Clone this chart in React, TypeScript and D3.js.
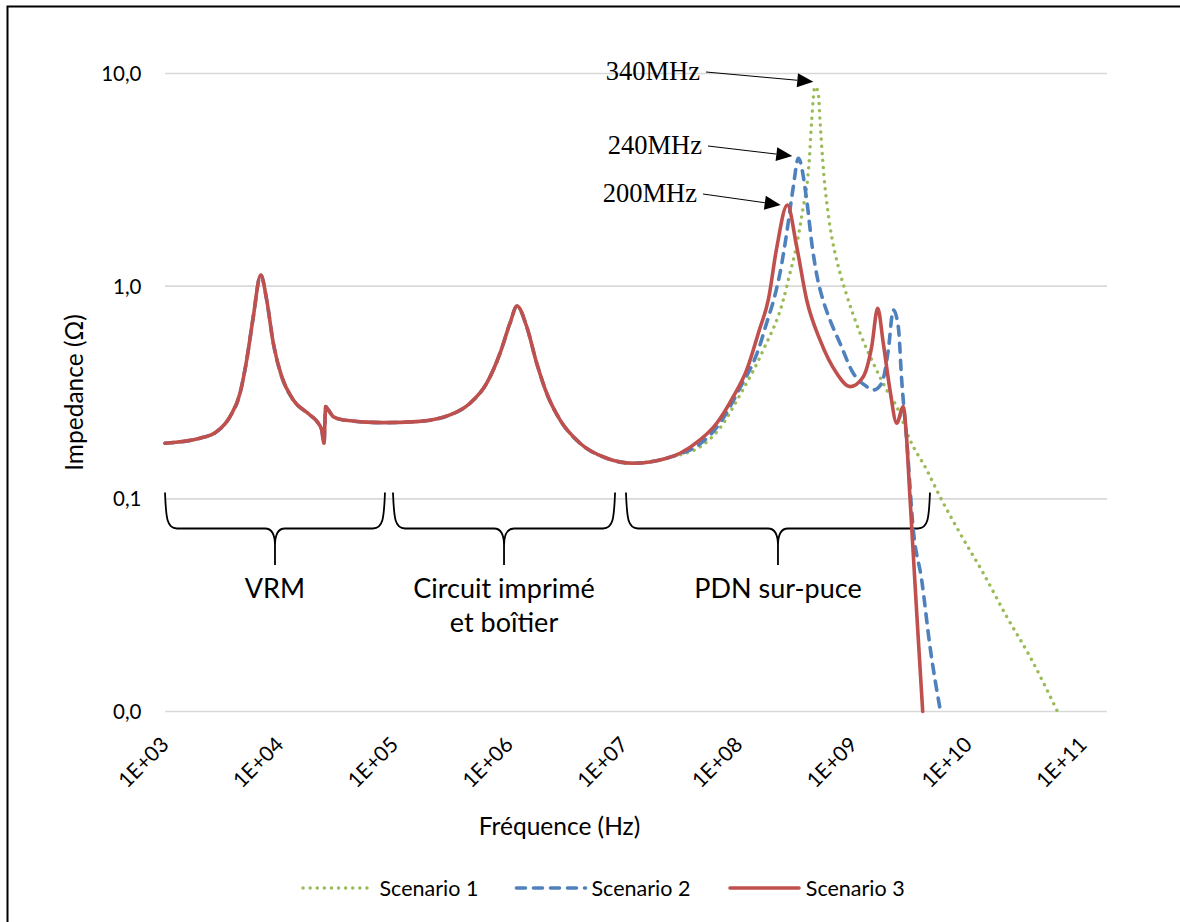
import React from "react";
import * as d3 from "d3";

// ---------- data (frequency in Hz, impedance in ohms) ----------
const seriesNames = ["Scenario 1", "Scenario 2", "Scenario 3"];
const seriesColors = ["#9bbb59", "#4f81bd", "#c0504d"];

// portion shared by all three scenarios (curves overlap)
const commonFreq = [
  1000, 2018, 2822, 3685, 4504, 5152, 5883, 6823, 7697, 8786, 10400, 13130, 18340,
  21680, 23210, 24300, 25140, 26490, 29290, 35790, 79880, 156100, 304500, 455000,
  636100, 830800, 1.015e6, 1.168e6, 1.419e6, 1.735e6, 2.12e6, 2.769e6, 4.136e6,
  7.07e6, 1.205e7, 2.355e7,
];
const commonZ = [
  0.1826, 0.1927, 0.207, 0.2435, 0.3137, 0.4498, 0.719, 1.129, 0.861, 0.539, 0.3754,
  0.2917, 0.248, 0.2267, 0.2109, 0.1826, 0.2714, 0.2618, 0.2435, 0.235, 0.2282,
  0.2307, 0.248, 0.2814, 0.3497, 0.4837, 0.6694, 0.807, 0.645, 0.434, 0.3137, 0.235,
  0.1826, 0.1552, 0.147, 0.1552,
];

const s1Freq = [
  3.076e7, 4.596e7, 6.864e7, 1.025e8, 1.636e8, 2.445e8, 2.797e8, 3.092e8, 3.419e8,
  3.651e8, 3.91e8, 4.119e8, 4.322e8, 4.617e8, 4.934e8, 5.105e8, 5.39e8, 5.644e8,
  5.911e8, 6.241e8, 6.901e8, 7.628e8, 8.6e8, 1.139e9, 1.488e9, 1.947e9, 2.379e9,
  3.107e9, 4.345e9, 5.672e9, 8.476e9, 1.353e10, 2.163e10, 3.451e10, 5.995e10,
];
const s1Z = [
  0.1609, 0.1754, 0.2154, 0.308, 0.501, 0.861, 1.153, 1.432, 1.905, 2.365, 2.936,
  3.92, 6.045, 8.667, 8.095, 6.045, 3.92, 2.936, 2.365, 1.905, 1.432, 1.153, 0.929,
  0.6026, 0.434, 0.325, 0.2714, 0.1891, 0.1368, 0.1024, 0.0689, 0.0447, 0.02794,
  0.01812, 0.01,
];

const s2Freq = [
  3.076e7, 4.596e7, 6.864e7, 1.025e8, 1.511e8, 1.728e8, 2.07e8, 2.288e8, 2.618e8,
  2.988e8, 3.304e8, 3.91e8, 4.348e8, 4.806e8, 5.423e8, 6.241e8, 7.628e8, 9.96e8,
  1.303e9, 1.488e9, 1.761e9, 2.011e9, 2.223e9, 2.457e9, 2.63e9, 2.907e9, 3.32e9,
  3.929e9, 4.642e9, 5.73e9,
];
const s2Z = [
  0.1626, 0.1812, 0.2275, 0.3322, 0.5177, 0.657, 0.909, 1.153, 1.779, 2.936, 3.993,
  2.543, 1.562, 1.117, 0.861, 0.6937, 0.539, 0.3894, 0.3371, 0.325, 0.3497, 0.501,
  0.773, 0.645, 0.3622, 0.1891, 0.0714, 0.04156, 0.02019, 0.01,
];

const s3Freq = [
  3.076e7, 4.596e7, 6.424e7, 8.966e7, 1.173e8, 1.511e8, 1.809e8, 2.141e8, 2.649e8,
  3.199e8, 3.91e8, 5.105e8, 7.138e8, 9.32e8, 1.217e9, 1.441e9, 1.625e9, 1.818e9,
  2.08e9, 2.379e9, 2.716e9, 2.867e9, 3.107e9, 3.555e9, 4.009e9,
];
const s3Z = [
  0.1638, 0.1891, 0.2267, 0.3023, 0.4036, 0.6224, 0.861, 1.512, 2.409, 1.533, 0.861,
  0.5585, 0.3894, 0.3371, 0.3754, 0.5194, 0.787, 0.539, 0.325, 0.2267, 0.2714,
  0.2109, 0.101, 0.0291, 0.01,
];

const xTickExponents = [3, 4, 5, 6, 7, 8, 9, 10, 11];
const yTickValues = [0.01, 0.1, 1, 10];

const annotLabels = ["340MHz", "240MHz", "200MHz"];
const annotTipFreq = [4.463e8, 2.929e8, 2.32e8];
const annotTipZ = [9.15, 4.094, 2.409];

const braceLabels = [["VRM"], ["Circuit imprimé", "et boîtier"], ["PDN sur-puce"]];
const braceFromFreq = [1e3, 9.7e4, 1.04e7];
const braceToFreq = [8.26e4, 8.36e6, 4.64e9];

// ---------- layout ----------
const W = 1180;
const H = 922;
const plotLeft = 165;
const plotRight = 1107;
const FONT = "Lato, 'Open Sans', sans-serif";

const x = d3.scaleLog().domain([1e3, 1e11]).range([165, 1083]);
const y = d3.scaleLog().domain([0.01, 10]).range([711.5, 73.5]);

const fmtY = (v: number) => d3.format(".1f")(v).replace(".", ",");
const fmtX = (e: number) => `1E+${String(e).padStart(2, "0")}`;

function zipPts(f: number[], z: number[]) {
  return f.map((fv, i) => ({ f: fv, z: z[i] }));
}

const seriesPts = [
  zipPts(commonFreq.concat(s1Freq), commonZ.concat(s1Z)),
  zipPts(commonFreq.concat(s2Freq), commonZ.concat(s2Z)),
  zipPts(commonFreq.concat(s3Freq), commonZ.concat(s3Z)),
];

const lineGen = d3
  .line<{ f: number; z: number }>()
  .x((d) => x(d.f))
  .y((d) => y(d.z))
  .curve(d3.curveMonotoneX);

const dashes = ["0.1,7", "9,8", undefined];
const widths = [3.4, 3.6, 3.6];

function bracePath(x0: number, x1: number, yTop: number, yMid: number, yTip: number) {
  const xc = (x0 + x1) / 2;
  return (
    `M${x0},${yTop} C${x0 + 1},${yTop + 26} ${x0 + 2},${yMid} ${x0 + 12},${yMid} ` +
    `L${xc - 10},${yMid} C${xc - 3},${yMid} ${xc},${yMid + 6} ${xc},${yMid + 17} L${xc},${yTip} ` +
    `M${xc},${yMid + 17} C${xc},${yMid + 6} ${xc + 3},${yMid} ${xc + 10},${yMid} ` +
    `L${x1 - 12},${yMid} C${x1 - 2},${yMid} ${x1 - 1},${yTop + 26} ${x1},${yTop}`
  );
}

const annotTextX = [700, 702, 697];
const annotTextY = [80, 154, 202];

export default function App() {
  return (
    <svg
      width={W}
      height={H}
      style={{ position: "fixed", left: 0, top: 0, background: "#fff" }}
      xmlns="http://www.w3.org/2000/svg"
    >
      <rect x={0} y={0} width={W} height={H} fill="#fff" />
      {/* outer border (top and left visible) */}
      <path d={`M7.5,${H + 5} L7.5,6.5 L${W + 5},6.5`} fill="none" stroke="#000" strokeWidth={2} />

      {/* gridlines */}
      {yTickValues.map((v) => (
        <line
          key={"g" + v}
          x1={plotLeft}
          x2={plotRight}
          y1={y(v)}
          y2={y(v)}
          stroke="#d9d9d9"
          strokeWidth={1.6}
        />
      ))}

      {/* y tick labels */}
      {yTickValues.map((v) => (
        <text
          key={"yt" + v}
          x={141.5}
          y={y(v)}
          dy="0.36em"
          textAnchor="end"
          fontFamily={FONT}
          fontSize={20.5}
          fill="#000"
        >
          {fmtY(v)}
        </text>
      ))}

      {/* x tick labels */}
      {xTickExponents.map((e) => {
        const px = x(Math.pow(10, e));
        return (
          <text
            key={"xt" + e}
            transform={`translate(${px + 5},${746}) rotate(-45)`}
            textAnchor="end"
            fontFamily={FONT}
            fontSize={21}
            fill="#000"
          >
            {fmtX(e)}
          </text>
        );
      })}

      {/* axis titles */}
      <text
        x={559.5}
        y={835}
        textAnchor="middle"
        fontFamily={FONT}
        fontSize={24.5}
        fill="#000"
      >
        Fréquence (Hz)
      </text>
      <text
        transform={`translate(83,${392.5}) rotate(-90)`}
        textAnchor="middle"
        fontFamily={FONT}
        fontSize={24.5}
        fill="#000"
      >
        Impedance (Ω)
      </text>

      {/* braces */}
      {braceLabels.map((lines, i) => {
        const x0 = x(braceFromFreq[i]);
        const x1 = x(braceToFreq[i]);
        const xc = (x0 + x1) / 2;
        return (
          <g key={"br" + i}>
            <path d={bracePath(x0, x1, 492.5, 528.5, 565)} fill="none" stroke="#000" strokeWidth={1.8} />
            {lines.map((t, j) => (
              <text
                key={j}
                x={xc}
                y={598 + j * 34}
                textAnchor="middle"
                fontFamily={FONT}
                fontSize={27}
                fill="#000"
              >
                {t}
              </text>
            ))}
          </g>
        );
      })}

      {/* series lines */}
      {seriesPts.map((pts, i) => (
        <path
          key={"s" + i}
          d={lineGen(pts) || ""}
          fill="none"
          stroke={seriesColors[i]}
          strokeWidth={widths[i]}
          strokeDasharray={dashes[i]}
          strokeLinecap="round"
          strokeLinejoin="round"
        />
      ))}

      {/* annotations */}
      {annotLabels.map((lab, i) => {
        const tx = x(annotTipFreq[i]);
        const ty = y(annotTipZ[i]);
        const sx = annotTextX[i] + 6;
        const sy = annotTextY[i] - 8;
        const dx = tx - sx;
        const dy = ty - sy;
        const len = Math.hypot(dx, dy);
        const ux = dx / len;
        const uy = dy / len;
        const bx = tx - 16 * ux;
        const by = ty - 16 * uy;
        const nx = -uy;
        const ny = ux;
        return (
          <g key={"an" + i}>
            <text
              x={annotTextX[i]}
              y={annotTextY[i]}
              textAnchor="end"
              fontFamily="'Liberation Serif', 'Times New Roman', serif"
              fontSize={26.5}
              fill="#000"
            >
              {lab}
            </text>
            <line x1={sx} y1={sy} x2={bx} y2={by} stroke="#000" strokeWidth={1} />
            <polygon
              points={`${tx},${ty} ${bx + 7 * nx},${by + 7 * ny} ${bx - 7 * nx},${by - 7 * ny}`}
              fill="#000"
            />
          </g>
        );
      })}

      {/* legend */}
      {[
        [303, 370, 379.5],
        [516.5, 585.5, 591.5],
        [730, 799, 805.8],
      ].map(([a, b, t], i) => (
        <g key={"lg" + i}>
          <line
            x1={a}
            x2={b}
            y1={888}
            y2={888}
            stroke={seriesColors[i]}
            strokeWidth={widths[i]}
            strokeDasharray={dashes[i]}
            strokeLinecap="round"
          />
          <text
            x={t}
            y={888}
            dy="0.36em"
            fontFamily={FONT}
            fontSize={21.5}
            fill="#000"
          >
            {seriesNames[i]}
          </text>
        </g>
      ))}
    </svg>
  );
}
